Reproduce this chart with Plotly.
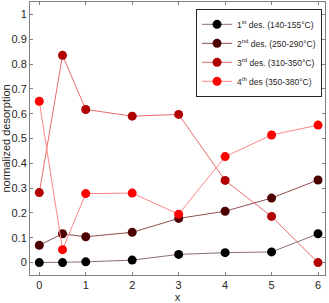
import plotly.graph_objects as go

x = [0, 0.5, 1, 2, 3, 4, 5, 6]
des1 = [0.0, 0.0, 0.003, 0.01, 0.033, 0.04, 0.043, 0.116]
des2 = [0.07, 0.116, 0.104, 0.122, 0.178, 0.207, 0.26, 0.333]
des3 = [0.282, 0.835, 0.617, 0.59, 0.597, 0.331, 0.186, 0.0]
des4 = [0.65, 0.052, 0.278, 0.28, 0.195, 0.427, 0.514, 0.554]

names = ["1<sup>st</sup> des. (140-155°C)",
         "2<sup>nd</sup> des. (250-290°C)",
         "3<sup>rd</sup> des. (310-350°C)",
         "4<sup>th</sup> des (350-380°C)"]
series = [des1, des2, des3, des4]
marker_colors = ["#000000", "#4d0000", "#b00000", "#ff0000"]
line_colors = ["#8c7070", "#8f4f4f", "#e86a6a", "#ff8585"]

fig = go.Figure()
for ys, nm, mc, lc in zip(series, names, marker_colors, line_colors):
    fig.add_trace(go.Scatter(
        x=x, y=ys, name=nm, mode="lines+markers",
        line=dict(color=lc, width=1),
        marker=dict(color=mc, size=9, line=dict(width=0)),
    ))

axis_common = dict(
    showgrid=False, zeroline=False, showline=True, linecolor="#7f7f7f",
    linewidth=1, mirror="allticks", ticks="inside", ticklen=3,
    tickcolor="#7f7f7f", tickfont=dict(family="Liberation Sans", size=11, color="#262626"),
    automargin=False,
)

fig.update_layout(
    width=329, height=303,
    margin=dict(l=30, r=4, t=2, b=28),
    plot_bgcolor="white", paper_bgcolor="white",
    font=dict(family="Liberation Sans", size=11, color="#262626"),
    xaxis=dict(range=[-0.2, 6.15], tickvals=[0, 1, 2, 3, 4, 5, 6],
               title=dict(text="x", standoff=2, font=dict(size=11)), **axis_common),
    yaxis=dict(range=[-0.05, 1.05], tickvals=[0, 0.1, 0.2, 0.3, 0.4, 0.5, 0.6, 0.7, 0.8, 0.9, 1],
               ticktext=["0", "0.1", "0.2", "0.3", "0.4", "0.5", "0.6", "0.7", "0.8", "0.9", "1"],
               title=dict(text="normalized desorption", standoff=2, font=dict(size=11)), **axis_common),
    legend=dict(x=0.99, y=0.975, xanchor="right", yanchor="top",
                bordercolor="#262626", borderwidth=1, bgcolor="white",
                font=dict(size=8.5, color="#262626"), itemwidth=30,
                tracegroupgap=0),
    showlegend=True,
)

fig.write_html("out.html", post_script="document.body.style.margin='0';",
               config={"displayModeBar": False})
